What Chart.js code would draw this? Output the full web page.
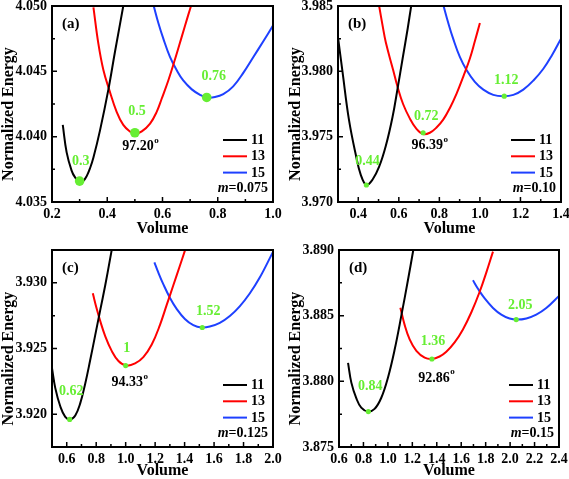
<!DOCTYPE html>
<html>
<head>
<meta charset="utf-8">
<script src="https://cdn.jsdelivr.net/npm/chart.js@4.4.1/dist/chart.umd.min.js"></script>
<style>
html,body{margin:0;padding:0;background:#ffffff;}
#wrap{position:relative;width:569px;height:479px;overflow:hidden;background:#ffffff;}
canvas{position:absolute;}
</style>
</head>
<body>
<div id="wrap">
<canvas id="pa" width="286" height="240" style="left:0px;top:0px"></canvas>
<canvas id="pb" width="283" height="240" style="left:286px;top:0px"></canvas>
<canvas id="pc" width="286" height="239" style="left:0px;top:240px"></canvas>
<canvas id="pd" width="283" height="239" style="left:286px;top:240px"></canvas>
</div>
<script>
// ---------------- DATA ----------------
const seriesNames = ['11', '13', '15'];

// (a) m = 0.075   [volume, normalized energy]
const a11 = [[0.239,4.0409],[0.253,4.0388],[0.271,4.0374],[0.283,4.0369],[0.301,4.0365],[0.313,4.0366],[0.326,4.0370],[0.338,4.0376],[0.350,4.0384],[0.374,4.0405],[0.404,4.0436],[0.428,4.0465],[0.458,4.0500],[0.470,4.0515]];
const a13 = [[0.350,4.0499],[0.368,4.0471],[0.386,4.0451],[0.407,4.0436],[0.434,4.0419],[0.458,4.0409],[0.482,4.0404],[0.500,4.0402],[0.525,4.0404],[0.555,4.0410],[0.579,4.0419],[0.597,4.0429],[0.621,4.0443],[0.645,4.0459],[0.669,4.0476],[0.693,4.0493],[0.709,4.0504]];
const a15 = [[0.567,4.0501],[0.585,4.0487],[0.603,4.0475],[0.627,4.0461],[0.651,4.0451],[0.675,4.0443],[0.706,4.04362],[0.736,4.04320],[0.760,4.04300],[0.790,4.04303],[0.820,4.04325],[0.856,4.04385],[0.893,4.0449],[0.929,4.0461],[0.965,4.0473],[1.000,4.0485]];
const minVolA = [0.3, 0.5, 0.76];
const minEA = [4.0366, 4.0403, 4.0430];
const minLabelA = ['0.3', '0.5', '0.76'];
const angleA = '97.20';
const mA = '0.075';
const xTicksA = [0.2, 0.4, 0.6, 0.8, 1.0];
const yTicksA = [4.035, 4.040, 4.045, 4.050];

// (b) m = 0.10
const b11 = [[0.300,3.9826],[0.322,3.9800],[0.354,3.9763],[0.388,3.9736],[0.412,3.9721],[0.440,3.9713],[0.470,3.9717],[0.503,3.9727],[0.536,3.9743],[0.569,3.9765],[0.594,3.9787],[0.619,3.9810],[0.644,3.9833],[0.660,3.9849],[0.672,3.9860]];
const b13 = [[0.503,3.9850],[0.520,3.9835],[0.536,3.9822],[0.572,3.9801],[0.594,3.9788],[0.621,3.9775],[0.654,3.9764],[0.687,3.9756],[0.720,3.9752],[0.753,3.9753],[0.786,3.9757],[0.819,3.9763],[0.852,3.9772],[0.885,3.9783],[0.918,3.9796],[0.951,3.9810],[0.975,3.9823],[1.000,3.9837]];
const b15 = [[0.819,3.9851],[0.844,3.9837],[0.868,3.9825],[0.901,3.9811],[0.934,3.9801],[0.975,3.9792],[1.017,3.9786],[1.066,3.9782],[1.115,3.9781],[1.165,3.9782],[1.214,3.9786],[1.264,3.9793],[1.313,3.9802],[1.354,3.9812],[1.400,3.9825]];
const minVolB = [0.44, 0.72, 1.12];
const minEB = [3.9713, 3.9753, 3.9781];
const minLabelB = ['0.44', '0.72', '1.12'];
const angleB = '96.39';
const mB = '0.10';
const xTicksB = [0.4, 0.6, 0.8, 1.0, 1.2, 1.4];
const yTicksB = [3.970, 3.975, 3.980, 3.985];

// (c) m = 0.125
const c11 = [[0.500,3.9235],[0.522,3.9220],[0.556,3.9206],[0.590,3.9198],[0.624,3.9196],[0.658,3.9199],[0.691,3.9208],[0.725,3.9223],[0.759,3.9241],[0.793,3.9260],[0.827,3.9279],[0.861,3.9298],[0.894,3.9318],[0.910,3.9328]];
const c13 = [[0.777,3.92920],[0.804,3.92800],[0.827,3.92710],[0.861,3.92595],[0.906,3.92480],[0.951,3.92405],[1.003,3.92370],[1.064,3.92386],[1.120,3.92434],[1.177,3.92530],[1.233,3.92680],[1.278,3.92830],[1.323,3.92980],[1.368,3.93130],[1.402,3.93245]];
const c15 = [[1.195,3.93156],[1.222,3.93077],[1.256,3.92988],[1.301,3.92885],[1.346,3.92802],[1.402,3.92725],[1.459,3.92678],[1.515,3.92660],[1.571,3.92667],[1.639,3.92695],[1.707,3.92747],[1.774,3.92821],[1.842,3.92919],[1.910,3.93040],[2.000,3.93236]];
const minVolC = [0.62, 1.0, 1.52];
const minEC = [3.9196, 3.9237, 3.9266];
const minLabelC = ['0.62', '1', '1.52'];
const angleC = '94.33';
const mC = '0.125';
const xTicksC = [0.6, 0.8, 1.0, 1.2, 1.4, 1.6, 1.8, 2.0];
const yTicksC = [3.920, 3.925, 3.930];

// (d) m = 0.15
const d11 = [[0.674,3.88140],[0.701,3.87990],[0.742,3.87870],[0.782,3.87800],[0.837,3.87770],[0.891,3.87790],[0.946,3.87875],[1.001,3.88030],[1.055,3.88240],[1.110,3.88500],[1.165,3.88775],[1.205,3.88985],[1.225,3.89092]];
const d13 = [[1.102,3.88560],[1.137,3.88430],[1.178,3.88320],[1.233,3.88232],[1.301,3.88180],[1.360,3.88170],[1.423,3.88189],[1.478,3.88225],[1.546,3.88296],[1.614,3.88395],[1.683,3.88526],[1.751,3.88682],[1.805,3.88828],[1.860,3.88988]];
const d15 = [[1.696,3.88769],[1.737,3.88705],[1.792,3.88631],[1.860,3.88559],[1.928,3.88508],[1.996,3.88478],[2.056,3.88470],[2.133,3.88479],[2.214,3.88508],[2.296,3.88558],[2.400,3.88650]];
const minVolD = [0.84, 1.36, 2.05];
const minED = [3.8777, 3.8817, 3.8847];
const minLabelD = ['0.84', '1.36', '2.05'];
const angleD = '92.86';
const mD = '0.15';
const xTicksD = [0.6, 0.8, 1.0, 1.2, 1.4, 1.6, 1.8, 2.0, 2.2, 2.4];
const yTicksD = [3.875, 3.880, 3.885, 3.890];

// ---------------- STYLE ----------------
const FAM = "'Liberation Serif','Times New Roman',Times,serif";
const LINE_COLORS = ['#000000', '#ff0000', '#1e40ff'];
const GREEN = '#66ee33';
function fnt(size, style) { return (style || 'bold') + ' ' + size + 'px ' + FAM; }

const decor = {
  id: 'decor',
  afterDraw(chart) {
    const o = chart.options.plugins.decor;
    const ctx = chart.ctx, ca = chart.chartArea;
    const x = chart.scales.x, y = chart.scales.y;
    ctx.save();
    // inward ticks
    ctx.strokeStyle = '#000';
    ctx.lineWidth = 1.5;
    ctx.beginPath();
    const xs = o.xTicks, xStep = xs[1] - xs[0];
    xs.forEach(v => { const p = x.getPixelForValue(v); ctx.moveTo(p, ca.bottom); ctx.lineTo(p, ca.bottom - 5); });
    for (let v = xs[0] - xStep / 2; v <= x.max + 1e-9; v += xStep) {
      if (v < x.min - 1e-9) continue;
      const p = x.getPixelForValue(v); ctx.moveTo(p, ca.bottom); ctx.lineTo(p, ca.bottom - 3);
    }
    const ys = o.yTicks, yStep = ys[1] - ys[0];
    ys.forEach(v => { const p = y.getPixelForValue(v); ctx.moveTo(ca.left, p); ctx.lineTo(ca.left + 5, p); });
    for (let v = ys[0] - yStep / 2; v <= y.max + 1e-9; v += yStep) {
      if (v < y.min - 1e-9) continue;
      const p = y.getPixelForValue(v); ctx.moveTo(ca.left, p); ctx.lineTo(ca.left + 3, p);
    }
    ctx.stroke();
    // frame
    ctx.lineWidth = 2;
    ctx.strokeRect(ca.left, ca.top, ca.right - ca.left, ca.bottom - ca.top);

    // green minimum labels
    ctx.fillStyle = GREEN;
    ctx.font = fnt(14);
    ctx.textAlign = 'center';
    ctx.textBaseline = 'middle';
    o.minX.forEach((vx, i) => {
      const px = x.getPixelForValue(vx) + o.lblOff[i][0];
      const py = y.getPixelForValue(o.minY[i]) + o.lblOff[i][1];
      ctx.fillText(o.labels[i], px, py);
    });
    // angle label under red minimum
    ctx.fillStyle = '#000';
    const ax = x.getPixelForValue(o.minX[1]) + o.angOff[0];
    const ay = y.getPixelForValue(o.minY[1]) + o.angOff[1];
    ctx.font = fnt(14);
    const aw = ctx.measureText(o.angle).width;
    ctx.fillText(o.angle, ax, ay);
    ctx.font = fnt(9);
    ctx.textAlign = 'left';
    ctx.fillText('o', ax + aw / 2 + 0.5, ay - 6);

    // legend
    ctx.font = fnt(14);
    ctx.textAlign = 'left';
    seriesNames.forEach((n, i) => {
      const ly = ca.bottom - 62 + i * 16.3;
      ctx.strokeStyle = LINE_COLORS[i];
      ctx.lineWidth = 2;
      ctx.beginPath();
      ctx.moveTo(ca.right - 50, ly); ctx.lineTo(ca.right - 26, ly);
      ctx.stroke();
      ctx.fillStyle = '#000';
      ctx.fillText(n, ca.right - 22, ly + 0.5);
    });
    const my = ca.bottom - 13.5;
    ctx.textAlign = 'right';
    ctx.font = fnt(14);
    const rest = '=' + o.m;
    const rw = ctx.measureText(rest).width;
    ctx.fillText(rest, ca.right - 5, my);
    ctx.font = fnt(14, 'italic bold');
    ctx.fillText('m', ca.right - 5 - rw, my);

    // panel tag
    ctx.font = fnt(15);
    ctx.textAlign = 'left';
    ctx.fillText(o.tag, ca.left + 10, ca.top + 18);

    // y axis title
    ctx.save();
    ctx.translate(o.yTitleX, (ca.top + ca.bottom) / 2 + 10);
    ctx.rotate(-Math.PI / 2);
    ctx.font = fnt(16);
    ctx.textAlign = 'center';
    ctx.textBaseline = 'middle';
    ctx.fillText('Normalized Energy', 0, 0);
    ctx.restore();

    ctx.restore();
  }
};

function buildPanel(P) {
  const datasets = P.series.map((s, i) => ({
    label: seriesNames[i],
    data: s.map(p => ({ x: p[0], y: p[1] })),
    borderColor: LINE_COLORS[i],
    borderWidth: 2,
    pointRadius: 0,
    fill: false,
    tension: 0.4,
    order: 1
  }));
  datasets.push({
    type: 'scatter',
    label: 'min',
    data: P.minX.map((v, i) => ({ x: v, y: P.minY[i] })),
    backgroundColor: GREEN,
    borderColor: GREEN,
    borderWidth: 0,
    pointRadius: P.dotR,
    order: 0
  });
  const tickFont = { family: FAM, size: 14, weight: 'bold' };
  new Chart(document.getElementById(P.id), {
    type: 'line',
    data: { datasets },
    options: {
      responsive: false,
      animation: false,
      events: [],
      layout: { padding: { top: P.padTop, right: P.padRight, left: 0, bottom: 0 } },
      plugins: {
        legend: { display: false },
        tooltip: { enabled: false },
        decor: {
          xTicks: P.xTicks, yTicks: P.yTicks, minX: P.minX, minY: P.minY,
          labels: P.labels, lblOff: P.lblOff, angle: P.angle, angOff: P.angOff,
          m: P.m, tag: P.tag, yTitleX: P.yTitleX
        }
      },
      scales: {
        x: {
          type: 'linear', min: P.xMin, max: P.xMax,
          afterBuildTicks: s => { s.ticks = P.xTicks.map(v => ({ value: v })); },
          afterFit: s => { s.height = P.xH; s.paddingLeft = 0; s.paddingRight = 0; },
          grid: { display: false, drawTicks: false },
          border: { display: false },
          ticks: { font: tickFont, color: '#000', padding: 4, maxRotation: 0, autoSkip: false,
                   callback: v => Number(v).toFixed(1) },
          title: { display: true, text: 'Volume', color: '#000',
                   font: { family: FAM, size: 16, weight: 'bold', lineHeight: 1 },
                   padding: { top: 0, bottom: P.titlePadB } }
        },
        y: {
          type: 'linear', min: P.yMin, max: P.yMax,
          afterBuildTicks: s => { s.ticks = P.yTicks.map(v => ({ value: v })); },
          afterFit: s => { s.width = P.yW; s.paddingTop = 0; s.paddingBottom = 0; },
          grid: { display: false, drawTicks: false },
          border: { display: false },
          ticks: { font: tickFont, color: '#000', padding: 5, autoSkip: false,
                   callback: v => Number(v).toFixed(3) },
          title: { display: false }
        }
      }
    },
    plugins: [decor]
  });
}

buildPanel({ id: 'pa', tag: '(a)', series: [a11, a13, a15], minX: minVolA, minY: minEA, labels: minLabelA,
  angle: angleA, m: mA, xTicks: xTicksA, yTicks: yTicksA, xMin: 0.2, xMax: 1.0, yMin: 4.035, yMax: 4.050,
  yW: 52, padTop: 6, padRight: 13, xH: 38, titlePadB: 3, dotR: 4.8, yTitleX: 9,
  lblOff: [[1, -20], [2, -21.5], [7, -21]], angOff: [3, 14] });
buildPanel({ id: 'pb', tag: '(b)', series: [b11, b13, b15], minX: minVolB, minY: minEB, labels: minLabelB,
  angle: angleB, m: mB, xTicks: xTicksB, yTicks: yTicksB, xMin: 0.3, xMax: 1.4, yMin: 3.970, yMax: 3.985,
  yW: 52, padTop: 6, padRight: 8, xH: 38, titlePadB: 3, dotR: 2.6, yTitleX: 10,
  lblOff: [[1, -24], [3, -16], [2, -16]], angOff: [4, 13] });
buildPanel({ id: 'pc', tag: '(c)', series: [c11, c13, c15], minX: minVolC, minY: minEC, labels: minLabelC,
  angle: angleC, m: mC, xTicks: xTicksC, yTicks: yTicksC, xMin: 0.5, xMax: 2.0, yMin: 3.9175, yMax: 3.9325,
  yW: 52, padTop: 10, padRight: 13, xH: 32, titlePadB: 0, dotR: 2.6, yTitleX: 9,
  lblOff: [[1.5, -28], [1, -17], [6, -15.6]], angOff: [1.5, 16.7] });
buildPanel({ id: 'pd', tag: '(d)', series: [d11, d13, d15], minX: minVolD, minY: minED, labels: minLabelD,
  angle: angleD, m: mD, xTicks: xTicksD, yTicks: yTicksD, xMin: 0.6, xMax: 2.4, yMin: 3.875, yMax: 3.890,
  yW: 53, padTop: 10, padRight: 10, xH: 32, titlePadB: 0, dotR: 2.6, yTitleX: 10,
  lblOff: [[2, -25], [1, -18], [4, -14]], angOff: [2, 19] });
</script>
</body>
</html>
